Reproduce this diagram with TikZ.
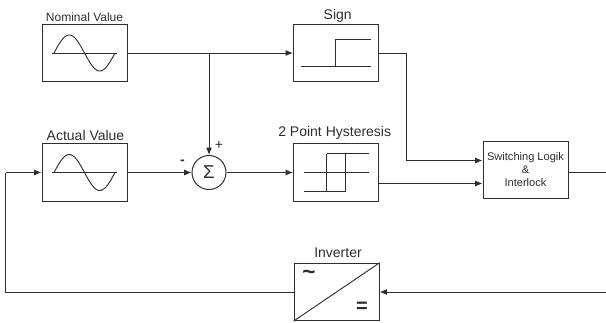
\documentclass[tikz,border=0pt]{standalone}
\usepackage{fontspec}
\setmainfont{Liberation Sans}
\usetikzlibrary{arrows.meta,calc}
\definecolor{ink}{HTML}{2E2E2E}
\tikzset{
  blockbox/.style={draw=ink,line width=0.75pt,minimum width=63.75pt,minimum height=43pt,inner sep=0pt,fill=white},
  conn/.style={draw=ink,line width=0.75pt},
  arr/.style={conn,-{Latex[length=5.5pt,width=4.5pt]}},
  glyph/.style={draw=ink,line width=0.7pt},
  cap9/.style={inner sep=0pt,text=ink,font=\fontsize{9}{10}\selectfont},
  cap10/.style={inner sep=0pt,text=ink,font=\fontsize{10.5}{12}\selectfont},
  logictext/.style={inner sep=0pt,text=ink,align=center,font=\fontsize{8.3}{9.6}\selectfont}
}
\begin{document}
\begin{tikzpicture}[x=0.75pt,y=-0.75pt]
\useasboundingbox (0,0) rectangle (606,322);
% blocks
\node[blockbox] (nom) at (84.5,53) {};
\node[blockbox] (act) at (84.5,172.5) {};
\node[blockbox] (sgn) at (336,53) {};
\node[blockbox] (hys) at (336,172.5) {};
\node[blockbox] (log) at (525.5,170) {};
\node[blockbox] (inv) at (336.5,292) {};
\node[draw=ink,line width=0.75pt,circle,minimum size=25.5pt,inner sep=0pt,fill=white,font=\fontsize{14}{14}\selectfont,text=ink] (sum) at (209,172.5) {Σ};
% captions
\node[cap9] (tnom) at (84.5,17) {Nominal Value};
\node[cap10] (tact) at (85.5,135.5) {Actual Value};
\node[cap10] (tsgn) at (337.7,16) {Sign};
\node[cap10] (thys) at (334.7,133) {2 Point Hysteresis};
\node[cap10] (tinv) at (338,253) {Inverter};
\node[logictext] (tlog) at (525.5,169.5) {Switching Logik\\\&\\Interlock};
\node[inner sep=0pt,text=ink,font=\fontsize{10.5}{12}\selectfont] (plus) at (219,145) {+};
\node[inner sep=0pt,text=ink,font=\bfseries\fontsize{10.5}{12}\selectfont] (minus) at (182.5,162) {-};
\node[inner sep=0pt,text=ink,font=\bfseries\fontsize{17}{17}\selectfont] (tilde) at (309,275) {\char"7E};
\node[inner sep=0pt,text=ink,font=\bfseries\fontsize{15}{15}\selectfont] (equal) at (362,307.5) {=};
% sine glyphs
\foreach \cy in {53,172.5}{
  \draw[glyph] (52,\cy) -- (117,\cy);
  \draw[glyph,domain=0:61,samples=61,smooth,variable=\u]
    plot ({54+\u},{\cy-18*sin(5.9016*\u)});
}
% sign glyph
\draw[glyph] (301,66.3) -- (370.5,66.3);
\draw[glyph] (335.7,66.3) -- (335.7,39) -- (370.5,39);
% hysteresis glyph
\draw[glyph] (303.5,172.5) -- (369,172.5);
\draw[glyph] (303.5,191) -- (345.4,191) -- (345.4,153.5);
\draw[glyph] (326.7,191) -- (326.7,153.5);
\draw[glyph] (326.7,153.5) -- (368.5,153.5);
% inverter diagonal
\draw[glyph] (inv.south west) -- (inv.north east);
% connectors
\coordinate (j) at (209,53);
\coordinate (s1) at (406.7,53);
\coordinate (s2) at (406.7,160.5);
\coordinate (login1) at (log.west |- s2);
\coordinate (hysout) at (hys.east |- 0,183.5);
\coordinate (login2) at (log.west |- hysout);
\coordinate (fbb) at (5.5,292);
\coordinate (fbt) at (5.5,172.5);
\coordinate (rightend) at (606,292);
\coordinate (logout) at (606,172.5);
\draw[arr] (nom.east) -- (sgn.west);
\draw[arr] (j) -- (sum.north);
\draw[arr] (act.east) -- (sum.west);
\draw[arr] (sum.east) -- (hys.west);
\draw[conn] (sgn.east) -- (s1) -- (s2);
\draw[arr] (s2) -- (login1);
\draw[arr] (hysout) -- (login2);
\draw[conn] (log.east |- logout) -- (logout);
\draw[arr] (rightend) -- (inv.east);
\draw[conn] (inv.west) -- (fbb) -- (fbt);
\draw[arr] (fbt) -- (act.west);
\end{tikzpicture}
\end{document}
